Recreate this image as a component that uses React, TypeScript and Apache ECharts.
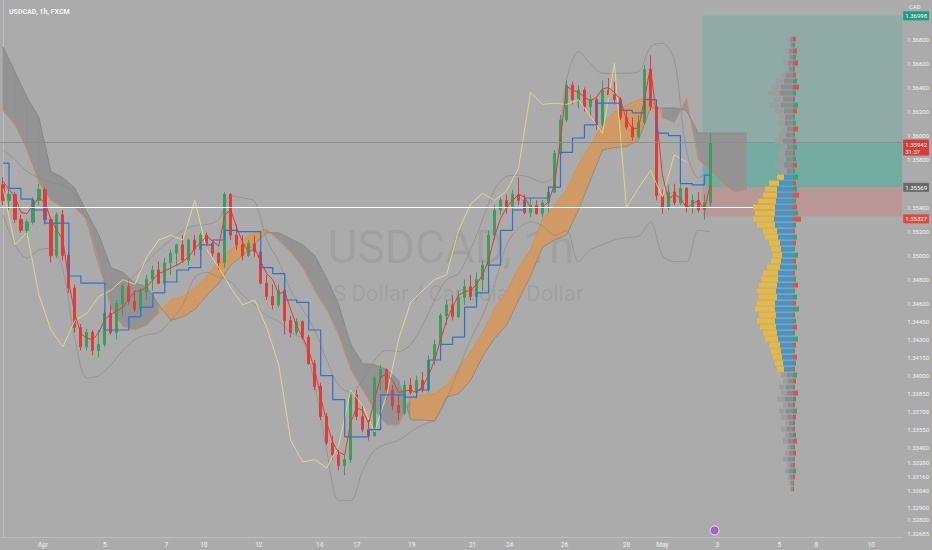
import React, { useEffect, useRef } from 'react';
import * as echarts from 'echarts';

// ---------- DATA ----------
// candles: [open, close, low, high]  (one candle per 4h block, bar index = position)
const candles = [
  [1.3559, 1.3546, 1.3542, 1.3565], [1.3546, 1.3551, 1.3538, 1.3555], [1.3551, 1.3530, 1.3527, 1.3553], [1.3530, 1.3521, 1.3519, 1.3534],
  [1.3521, 1.3528, 1.3517, 1.3530], [1.3528, 1.3546, 1.3526, 1.3549], [1.3546, 1.3555, 1.3542, 1.3560], [1.3555, 1.3530, 1.3526, 1.3557],
  [1.3530, 1.3500, 1.3494, 1.3532], [1.3500, 1.3534, 1.3498, 1.3536], [1.3534, 1.3500, 1.3496, 1.3538], [1.3500, 1.3473, 1.3469, 1.3503],
  [1.3473, 1.3440, 1.3436, 1.3476], [1.3440, 1.3424, 1.3421, 1.3443], [1.3424, 1.3436, 1.3421, 1.3439], [1.3436, 1.3421, 1.3417, 1.3438],
  [1.3421, 1.3426, 1.3415, 1.3438], [1.3426, 1.3452, 1.3424, 1.3455], [1.3452, 1.3436, 1.3434, 1.3459], [1.3436, 1.3460, 1.3430, 1.3463],
  [1.3460, 1.3474, 1.3450, 1.3476], [1.3474, 1.3462, 1.3459, 1.3480], [1.3462, 1.3455, 1.3453, 1.3471], [1.3455, 1.3470, 1.3452, 1.3473],
  [1.3470, 1.3480, 1.3463, 1.3484], [1.3480, 1.3488, 1.3471, 1.3492], [1.3488, 1.3477, 1.3476, 1.3495], [1.3477, 1.3494, 1.3475, 1.3498],
  [1.3494, 1.3502, 1.3484, 1.3505], [1.3502, 1.3509, 1.3492, 1.3510], [1.3509, 1.3496, 1.3494, 1.3517], [1.3496, 1.3513, 1.3492, 1.3514],
  [1.3513, 1.3505, 1.3500, 1.3517], [1.3505, 1.3517, 1.3500, 1.3519], [1.3517, 1.3510, 1.3505, 1.3519], [1.3510, 1.3502, 1.3499, 1.3513],
  [1.3502, 1.3494, 1.3488, 1.3503], [1.3494, 1.3551, 1.3490, 1.3553], [1.3551, 1.3517, 1.3513, 1.3552], [1.3517, 1.3509, 1.3505, 1.3526],
  [1.3509, 1.3500, 1.3496, 1.3517], [1.3500, 1.3510, 1.3499, 1.3513], [1.3510, 1.3503, 1.3499, 1.3517], [1.3503, 1.3477, 1.3476, 1.3505],
  [1.3477, 1.3466, 1.3463, 1.3484], [1.3466, 1.3459, 1.3455, 1.3476], [1.3459, 1.3471, 1.3457, 1.3476], [1.3471, 1.3446, 1.3434, 1.3480],
  [1.3446, 1.3436, 1.3432, 1.3450], [1.3436, 1.3445, 1.3434, 1.3448], [1.3445, 1.3432, 1.3430, 1.3446], [1.3432, 1.3410, 1.3409, 1.3434],
  [1.3410, 1.3391, 1.3388, 1.3413], [1.3391, 1.3366, 1.3363, 1.3394], [1.3366, 1.3344, 1.3342, 1.3369], [1.3344, 1.3334, 1.3330, 1.3350],
  [1.3334, 1.3325, 1.3321, 1.3338], [1.3325, 1.3330, 1.3317, 1.3334], [1.3330, 1.3384, 1.3327, 1.3386], [1.3384, 1.3366, 1.3363, 1.3388],
  [1.3366, 1.3355, 1.3353, 1.3375], [1.3355, 1.3350, 1.3346, 1.3363], [1.3350, 1.3398, 1.3349, 1.3400], [1.3398, 1.3405, 1.3388, 1.3409],
  [1.3405, 1.3388, 1.3380, 1.3406], [1.3388, 1.3375, 1.3371, 1.3392], [1.3375, 1.3369, 1.3363, 1.3384], [1.3369, 1.3392, 1.3367, 1.3396],
  [1.3392, 1.3386, 1.3384, 1.3398], [1.3386, 1.3396, 1.3381, 1.3400], [1.3396, 1.3388, 1.3386, 1.3403], [1.3388, 1.3413, 1.3386, 1.3417],
  [1.3413, 1.3426, 1.3409, 1.3430], [1.3426, 1.3450, 1.3424, 1.3452], [1.3450, 1.3459, 1.3442, 1.3463], [1.3459, 1.3449, 1.3446, 1.3467],
  [1.3449, 1.3465, 1.3448, 1.3471], [1.3465, 1.3474, 1.3459, 1.3480], [1.3474, 1.3466, 1.3463, 1.3484], [1.3466, 1.3480, 1.3465, 1.3486],
  [1.3480, 1.3492, 1.3471, 1.3496], [1.3492, 1.3517, 1.3490, 1.3521], [1.3517, 1.3538, 1.3513, 1.3542], [1.3538, 1.3546, 1.3534, 1.3548],
  [1.3546, 1.3540, 1.3535, 1.3551], [1.3540, 1.3551, 1.3538, 1.3555], [1.3551, 1.3546, 1.3542, 1.3565], [1.3546, 1.3536, 1.3534, 1.3551],
  [1.3536, 1.3542, 1.3532, 1.3548], [1.3542, 1.3535, 1.3534, 1.3546], [1.3535, 1.3544, 1.3532, 1.3546], [1.3544, 1.3553, 1.3536, 1.3555],
  [1.3553, 1.3585, 1.3552, 1.3588], [1.3585, 1.3613, 1.3584, 1.3617], [1.3613, 1.3642, 1.3611, 1.3646], [1.3642, 1.3630, 1.3626, 1.3645],
  [1.3630, 1.3638, 1.3623, 1.3642], [1.3638, 1.3624, 1.3620, 1.3640], [1.3624, 1.3630, 1.3617, 1.3634], [1.3630, 1.3609, 1.3605, 1.3632],
  [1.3609, 1.3638, 1.3607, 1.3646], [1.3638, 1.3634, 1.3630, 1.3648], [1.3634, 1.3630, 1.3626, 1.3645], [1.3630, 1.3615, 1.3613, 1.3632],
  [1.3615, 1.3607, 1.3605, 1.3621], [1.3607, 1.3599, 1.3596, 1.3615], [1.3599, 1.3611, 1.3598, 1.3617], [1.3611, 1.3655, 1.3609, 1.3659],
  [1.3655, 1.3624, 1.3621, 1.3667], [1.3624, 1.3550, 1.3546, 1.3626], [1.3550, 1.3540, 1.3535, 1.3555], [1.3540, 1.3553, 1.3538, 1.3559],
  [1.3553, 1.3544, 1.3542, 1.3560], [1.3544, 1.3556, 1.3542, 1.3577], [1.3556, 1.3540, 1.3536, 1.3557], [1.3540, 1.3546, 1.3535, 1.3551],
  [1.3546, 1.3538, 1.3536, 1.3553], [1.3538, 1.3544, 1.3530, 1.3551], [1.3544, 1.35942, 1.3540, 1.3602],
];

// Tenkan-sen (one value per candle)
const tenkan = [
  1.3562, 1.3555, 1.3549, 1.3536, 1.3535, 1.3542, 1.3548, 1.3544, 1.3530, 1.3521,
  1.3513, 1.3477, 1.3451, 1.3435, 1.3431, 1.3430, 1.3436, 1.3447, 1.3451, 1.3454,
  1.3457, 1.3464, 1.3470, 1.3471, 1.3474, 1.3480, 1.3485, 1.3487, 1.3490, 1.3492,
  1.3495, 1.3499, 1.3506, 1.3511, 1.3516, 1.3512, 1.3508, 1.3534, 1.3538, 1.3523,
  1.3511, 1.3503, 1.3506, 1.3495, 1.3485, 1.3480, 1.3468, 1.3470, 1.3455, 1.3441,
  1.3432, 1.3421, 1.3405, 1.3382, 1.3361, 1.3344, 1.3336, 1.3334, 1.3361, 1.3373,
  1.3371, 1.3360, 1.3380, 1.3399, 1.3401, 1.3396, 1.3386, 1.3387, 1.3388, 1.3386,
  1.3391, 1.3400, 1.3413, 1.3430, 1.3446, 1.3457, 1.3467, 1.3470, 1.3471, 1.3476,
  1.3484, 1.3496, 1.3516, 1.3531, 1.3540, 1.3546, 1.3551, 1.3549, 1.3540, 1.3540,
  1.3540, 1.3545, 1.3559, 1.3596, 1.3641, 1.3638, 1.3636, 1.3632, 1.3629, 1.3632,
  1.3639, 1.3640, 1.3636, 1.3630, 1.3613, 1.3606, 1.3606, 1.3630, 1.3657, 1.3617,
  1.3567, 1.3547, 1.3551, 1.3548, 1.3540, 1.3543, 1.3546, 1.3538, 1.3559,
];

// the following series have one value every 2 candles
const sparseStep = 2;
const kijun = [
  1.3577, 1.3556, 1.3547, 1.3538, 1.3527, 1.3527, 1.3483, 1.3477, 1.3477, 1.3438,
  1.3438, 1.3449, 1.3457, 1.3469, 1.3478, 1.3488, 1.3490, 1.3509, 1.3513, 1.3521,
  1.3520, 1.3520, 1.3490, 1.3485, 1.3463, 1.3461, 1.3438, 1.3400, 1.3380, 1.3349,
  1.3349, 1.3355, 1.3384, 1.3384, 1.3382, 1.3388, 1.3413, 1.3426, 1.3432, 1.3457,
  1.3469, 1.3492, 1.3521, 1.3538, 1.3548, 1.3548, 1.3557, 1.3586, 1.3598, 1.3609,
  1.3627, 1.3627, 1.3621, 1.3619, 1.3630, 1.3602, 1.3600, 1.3560, 1.3559, 1.3567,
];
const chikou = [
  1.3556, 1.3509, 1.3519, 1.3467, 1.3438, 1.3424, 1.3446, 1.3452, 1.3466, 1.3471,
  1.3480, 1.3476, 1.3499, 1.3513, 1.3517, 1.3513, 1.3546, 1.3505, 1.3490, 1.3473,
  1.3459, 1.3463, 1.3440, 1.3409, 1.3346, 1.3328, 1.3330, 1.3323, 1.3342, 1.3388,
  1.3375, 1.3353, 1.3384, 1.3430, 1.3461, 1.3471, 1.3480, 1.3484, 1.3521, 1.3543,
  1.3552, 1.3546, 1.3554, 1.3573, 1.3636, 1.3626, 1.3627, 1.3626, 1.3630, 1.3616,
  1.3602, 1.3660, 1.3540, 1.3556, 1.3571, 1.3549, 1.3584, 1.3578,
];
const spanA = [
  1.3621, 1.3609, 1.3588, 1.3561, 1.3546, 1.3540, 1.3540, 1.3530, 1.3495, 1.3456,
  1.3441, 1.3438, 1.3442, 1.3452, 1.3463, 1.3466, 1.3473, 1.3483, 1.3495, 1.3505,
  1.3513, 1.3520, 1.3522, 1.3513, 1.3503, 1.3490, 1.3471, 1.3455, 1.3434, 1.3405,
  1.3388, 1.3371, 1.3359, 1.3359, 1.3382, 1.3384, 1.3385, 1.3392, 1.3406, 1.3420,
  1.3436, 1.3456, 1.3470, 1.3490, 1.3505, 1.3530, 1.3542, 1.3555, 1.3576, 1.3592,
  1.3609, 1.3620, 1.3625, 1.3630, 1.3632, 1.3615, 1.3611, 1.3631, 1.3580, 1.3571,
  1.3560, 1.3553, 1.3555,
];
const spanB = [
  1.3674, 1.3653, 1.3632, 1.3615, 1.3570, 1.3565, 1.3556, 1.3536, 1.3517, 1.3490,
  1.3486, 1.3477, 1.3474, 1.3459, 1.3446, 1.3449, 1.3455, 1.3467, 1.3477, 1.3492,
  1.3500, 1.3510, 1.3519, 1.3519, 1.3514, 1.3509, 1.3500, 1.3481, 1.3459, 1.3426,
  1.3410, 1.3409, 1.3405, 1.3396, 1.3363, 1.3363, 1.3362, 1.3382, 1.3385, 1.3396,
  1.3416, 1.3431, 1.3442, 1.3463, 1.3483, 1.3507, 1.3513, 1.3517, 1.3538, 1.3563,
  1.3588, 1.3590, 1.3591, 1.3596, 1.3623, 1.3623, 1.3623, 1.3621, 1.3602, 1.3602,
  1.3602, 1.3602, 1.3602,
];
const bbUpper = [
  1.3588, 1.3580, 1.3570, 1.3565, 1.3561, 1.3559, 1.3551, 1.3528, 1.3492, 1.3473,
  1.3476, 1.3484, 1.3495, 1.3505, 1.3513, 1.3521, 1.3525, 1.3526, 1.3530, 1.3550,
  1.3548, 1.3545, 1.3513, 1.3495, 1.3471, 1.3455, 1.3438, 1.3413, 1.3392, 1.3386,
  1.3396, 1.3413, 1.3421, 1.3420, 1.3426, 1.3442, 1.3463, 1.3480, 1.3485, 1.3505,
  1.3530, 1.3555, 1.3566, 1.3567, 1.3565, 1.3561, 1.3567, 1.3646, 1.3670, 1.3660,
  1.3652, 1.3652, 1.3652, 1.3653, 1.3674, 1.3677, 1.3663, 1.3588, 1.3565, 1.3570,
];
const bbLower = [
  1.3534, 1.3509, 1.3498, 1.3505, 1.3506, 1.3488, 1.3430, 1.3398, 1.3400, 1.3409,
  1.3421, 1.3430, 1.3434, 1.3436, 1.3446, 1.3459, 1.3482, 1.3486, 1.3482, 1.3478,
  1.3467, 1.3459, 1.3450, 1.3445, 1.3436, 1.3430, 1.3392, 1.3338, 1.3296, 1.3296,
  1.3321, 1.3338, 1.3343, 1.3346, 1.3353, 1.3359, 1.3363, 1.3380, 1.3405, 1.3430,
  1.3450, 1.3476, 1.3509, 1.3523, 1.3528, 1.3525, 1.3517, 1.3521, 1.3495, 1.3505,
  1.3509, 1.3513, 1.3515, 1.3516, 1.3528, 1.3500, 1.3495, 1.3495, 1.3521, 1.3520,
];

// Visible-range volume profile (rows from top price downward)
const vpTop = 1.3680;
const vpStep = 0.0005;
const vaStart = 23;
const vaEnd = 55;
const vpUp = [
  3, 2, 4, 3, 5, 4, 7, 9, 12, 13, 10, 12, 9, 8, 8, 6, 7, 10, 6, 8,
  7, 9, 6, 9, 14, 16, 16, 17, 18, 18, 19, 18, 16, 15, 13, 12, 11, 12, 13, 15,
  15, 16, 17, 16, 18, 18, 17, 18, 17, 16, 15, 13, 12, 11, 10, 9, 6, 5, 7, 6,
  8, 5, 7, 6, 4, 6, 4, 5, 3, 4, 5, 3, 4, 3, 2, 2,
];
const vpDown = [
  3, 2, 4, 2, 5, 4, 5, 9, 10, 12, 10, 12, 9, 6, 8, 6, 7, 8, 6, 8,
  7, 9, 6, 7, 10, 12, 14, 18, 22, 20, 21, 18, 14, 13, 11, 10, 9, 10, 13, 15,
  17, 18, 19, 18, 18, 20, 17, 18, 16, 14, 13, 11, 10, 9, 8, 7, 6, 5, 7, 6,
  8, 5, 7, 6, 4, 6, 4, 5, 3, 4, 5, 3, 4, 2, 2, 1,
];
const vpDelta = [
  -3, 2, -4, 3, -5, 2, -3, 4, -6, 3, -2, 5, -4, 2, 3, -5, 2, -3, 4, -2,
  3, -4, 2, 5, -3, 4, -6, 3, -4, 5, -8, 3, -2, 4, -3, 2, 5, -3, 4, -2,
  3, -5, 2, 4, -3, 6, -2, 3, -4, 2, 5, -3, 2, -4, 3, -2, 4, -3, 2, -5,
  3, -2, 4, -3, 2, -2, 3, -4, 2, -3, 2, -2, 3, -2, 1, -1,
];

// axes
const timeTickIndex = [6.67, 17, 27.25, 33.5, 42.67, 52.83, 59, 68.17, 78.33, 84.5, 93.67, 104, 110, 119.17, 129.5, 135.67, 144.83];
const timeTickLabels = ['Apr', '5', '7', '10', '12', '14', '17', '19', '21', '24', '26', '28', 'May', '3', '5', '8', '10'];
const priceTicks = [1.368, 1.366, 1.364, 1.362, 1.36, 1.358, 1.354, 1.352, 1.35, 1.348, 1.346, 1.3445, 1.343, 1.3415, 1.34, 1.3385, 1.337, 1.3355, 1.334, 1.3328, 1.3316, 1.3304, 1.329, 1.328, 1.32685];
const yMin = 1.32655;
const yMax = 1.3713;
const xMin = -0.5;
const xMax = 150;

// levels
const lastPrice = 1.35942;
const countdown = '31:37';
const positionStart = 116.7;
const positionTarget = 1.36998;
const positionEntry = 1.35569;
const positionStop = 1.35327;
const whiteLevel = 1.35405;
const whiteLineEnd = 131;
const eventPoint = [118.7, 1.3271];

// ---------- STYLE ----------
const bg = '#ababab';
const textColor = '#f4f4f4';
const font = 'Roboto, "Noto Sans", sans-serif';

export default function App() {
  const ref = useRef(null);
  useEffect(() => {
    document.body.style.margin = '0';
    const chart = echarts.init(ref.current, null, { renderer: 'svg' });

    const sparse = (arr) => arr.map((v, j) => [j * sparseStep, v]);

    const cloudSeries = {
      type: 'custom',
      xAxisIndex: 0,
      yAxisIndex: 0,
      z: 1,
      silent: true,
      clip: true,
      data: spanA.map((a, j) => [j * sparseStep, a, spanB[j]]),
      encode: { x: 0, y: [1, 2] },
      renderItem: (params, api) => {
        const j = params.dataIndex;
        if (j >= spanA.length - 1) return null;
        const x0 = j * sparseStep;
        const x1 = (j + 1) * sparseStep;
        const pts = [
          api.coord([x0, spanA[j]]),
          api.coord([x1, spanA[j + 1]]),
          api.coord([x1, spanB[j + 1]]),
          api.coord([x0, spanB[j]]),
        ];
        const bull = spanA[j] + spanA[j + 1] >= spanB[j] + spanB[j + 1];
        const c = bull ? '#d09a66' : '#939393';
        return { type: 'polygon', shape: { points: pts }, style: { fill: c, stroke: c, lineWidth: 0.5 } };
      },
    };

    const profileSeries = {
      type: 'custom',
      xAxisIndex: 1,
      yAxisIndex: 1,
      z: 8,
      silent: true,
      data: vpUp.map((u, k) => [u + vpDown[k], vpTop - k * vpStep]),
      encode: { x: 0, y: 1 },
      renderItem: (params, api) => {
        const k = params.dataIndex;
        const p = vpTop - k * vpStep;
        const o = api.coord([0, p + vpStep / 2]);
        const e1 = api.coord([vpUp[k], p - vpStep / 2]);
        const e2 = api.coord([vpUp[k] + vpDown[k], p - vpStep / 2]);
        const inVA = k >= vaStart && k <= vaEnd;
        const h = Math.max(1, e1[1] - o[1] - 1);
        return {
          type: 'group',
          children: [
            { type: 'rect', shape: { x: e1[0], y: o[1], width: o[0] - e1[0], height: h }, style: { fill: inVA ? '#4a94c4' : '#8c8c8c' } },
            { type: 'rect', shape: { x: e2[0], y: o[1], width: e1[0] - e2[0], height: h }, style: { fill: inVA ? '#e6b943' : '#9d9d9d' } },
          ],
        };
      },
    };

    const deltaSeries = {
      type: 'custom',
      xAxisIndex: 2,
      yAxisIndex: 2,
      z: 8,
      silent: true,
      data: vpDelta.map((d, k) => [Math.abs(d), vpTop - k * vpStep]),
      encode: { x: 0, y: 1 },
      renderItem: (params, api) => {
        const k = params.dataIndex;
        const p = vpTop - k * vpStep;
        const o = api.coord([0, p + vpStep / 2]);
        const e = api.coord([Math.abs(vpDelta[k]), p - vpStep / 2]);
        return {
          type: 'rect',
          shape: { x: o[0], y: o[1], width: e[0] - o[0], height: Math.max(1, e[1] - o[1] - 1) },
          style: { fill: vpDelta[k] >= 0 ? '#3c9f86' : '#d9534f' },
        };
      },
    };

    const tagLabel = (text, color, offsetY) => ({
      show: true,
      position: 'end',
      distance: 1,
      offset: [0, offsetY],
      formatter: text,
      color: '#ffffff',
      backgroundColor: color,
      padding: [1, 2, 1, 2],
      fontSize: 6,
      lineHeight: 7,
      fontFamily: font,
    });
    const tag = (value, color, offsetY) => ({
      yAxis: value,
      lineStyle: { color: 'rgba(0,0,0,0)', width: 1 },
      label: tagLabel(value.toFixed(5), color, offsetY),
    });

    const option = {
      animation: false,
      backgroundColor: bg,
      textStyle: { fontFamily: font },
      title: {
        text: 'USDCAD, 1h, FXCM',
        left: 4,
        top: 3,
        textStyle: { fontSize: 7, color: textColor, fontWeight: 'bold', fontFamily: font },
      },
      graphic: [
        {
          type: 'text', x: 451, y: 247, z: -10, silent: true,
          style: { text: 'USDCAD, 1h', fontSize: 46, fill: 'rgba(60,60,60,0.1)', textAlign: 'center', textVerticalAlign: 'middle', fontFamily: font },
        },
        {
          type: 'text', x: 451, y: 293, z: -10, silent: true,
          style: { text: 'US Dollar / Canadian Dollar', fontSize: 22, fill: 'rgba(60,60,60,0.1)', textAlign: 'center', textVerticalAlign: 'middle', fontFamily: font },
        },
        {
          type: 'text', x: 909, y: 3, silent: true,
          style: { text: 'CAD', fontSize: 6, fill: textColor, fontFamily: font },
        },
      ],
      grid: [
        { left: 0, right: 29, top: 0, bottom: 13 },
        { left: 693, width: 100, top: 0, bottom: 13 },
        { left: 793, width: 40, top: 0, bottom: 13 },
      ],
      xAxis: [
        {
          type: 'value', gridIndex: 0, min: xMin, max: xMax,
          axisLine: { show: true, lineStyle: { color: '#bdbdbd', width: 1 } },
          axisTick: { show: false },
          splitLine: { show: false },
          axisLabel: {
            customValues: timeTickIndex,
            formatter: (v) => {
              const k = timeTickIndex.findIndex((t) => Math.abs(t - v) < 1e-6);
              return k >= 0 ? timeTickLabels[k] : '';
            },
            color: textColor, fontSize: 6.5, margin: 4, fontFamily: font,
          },
        },
        { type: 'value', gridIndex: 1, min: 0, max: 100, inverse: true, show: false },
        { type: 'value', gridIndex: 2, min: 0, max: 40, show: false },
      ],
      yAxis: [
        {
          type: 'value', gridIndex: 0, position: 'right', min: yMin, max: yMax,
          axisLine: { show: true, lineStyle: { color: '#bdbdbd', width: 1 } },
          axisTick: { show: false },
          splitLine: { show: false },
          axisLabel: {
            customValues: priceTicks,
            formatter: (v) => v.toFixed(5),
            color: textColor, fontSize: 6, margin: 5, fontFamily: font,
          },
        },
        { type: 'value', gridIndex: 1, min: yMin, max: yMax, show: false },
        { type: 'value', gridIndex: 2, min: yMin, max: yMax, show: false },
      ],
      series: [
        {
          type: 'line', name: 'position', data: [], z: 0, silent: true,
          markArea: {
            silent: true,
            label: { show: false },
            data: [
              [{ xAxis: positionStart, yAxis: positionTarget, itemStyle: { color: 'rgba(40,175,150,0.22)' } }, { xAxis: xMax, yAxis: lastPrice }],
              [{ xAxis: positionStart, yAxis: lastPrice, itemStyle: { color: 'rgba(40,175,150,0.42)' } }, { xAxis: xMax, yAxis: positionEntry }],
              [{ xAxis: positionStart, yAxis: positionEntry, itemStyle: { color: 'rgba(240,80,80,0.22)' } }, { xAxis: xMax, yAxis: positionStop }],
            ],
          },
        },
        cloudSeries,
        { type: 'line', name: 'Lead 1', data: sparse(spanA), showSymbol: false, z: 2, silent: true, lineStyle: { color: '#d88f4c', width: 0.8 } },
        { type: 'line', name: 'Lead 2', data: sparse(spanB), showSymbol: false, z: 2, silent: true, lineStyle: { color: '#858585', width: 0.8 } },
        { type: 'line', name: 'BB upper', data: sparse(bbUpper), showSymbol: false, z: 2, silent: true, smooth: 0.3, lineStyle: { color: '#878787', width: 0.6 } },
        { type: 'line', name: 'BB lower', data: sparse(bbLower), showSymbol: false, z: 2, silent: true, smooth: 0.3, lineStyle: { color: '#878787', width: 0.6 } },
        {
          type: 'candlestick', name: 'USDCAD', z: 3,
          data: candles.map((c, i) => [i, ...c]),
          encode: { x: 0, y: [1, 2, 3, 4] },
          barWidth: 2.6,
          itemStyle: { color: '#3f9c5c', color0: '#d9403c', borderColor: '#3f9c5c', borderColor0: '#d9403c', borderWidth: 1 },
          markLine: {
            symbol: ['none', 'none'],
            silent: true,
            animation: false,
            precision: 5,
            data: [
              {
                yAxis: lastPrice,
                lineStyle: { color: '#8d8d8d', width: 1, type: 'solid' },
                label: tagLabel(lastPrice.toFixed(5) + '\n' + countdown, '#d63a3a', 5),
              },
              tag(positionTarget, '#1d9d80', 0),
              tag(positionEntry, '#6a6a6a', 0),
              tag(positionStop, '#e0473f', 2.5),
              [
                { coord: [xMin, whiteLevel], lineStyle: { color: '#ffffff', width: 1, type: 'solid' }, label: { show: false } },
                { coord: [whiteLineEnd, whiteLevel], label: { show: false } },
              ],
            ],
          },
        },
        { type: 'line', name: 'Lagging', data: sparse(chikou), showSymbol: false, z: 4, silent: true, lineStyle: { color: '#e9e27c', width: 0.8 } },
        { type: 'line', name: 'Base', data: sparse(kijun), step: 'middle', showSymbol: false, z: 4, silent: true, lineStyle: { color: '#2f70cf', width: 1.2 } },
        { type: 'line', name: 'Conversion', data: tenkan.map((v, i) => [i, v]), showSymbol: false, z: 4, silent: true, lineStyle: { color: '#e23b35', width: 1 } },
        profileSeries,
        deltaSeries,
        {
          type: 'scatter', name: 'event', data: [eventPoint], z: 9, silent: true,
          symbol: 'circle', symbolSize: 9,
          itemStyle: { color: '#a24fd0', borderColor: '#ffffff', borderWidth: 1 },
        },
      ],
    };
    chart.setOption(option);
    return () => chart.dispose();
  }, []);
  return <div ref={ref} style={{ width: 932, height: 550 }} />;
}
